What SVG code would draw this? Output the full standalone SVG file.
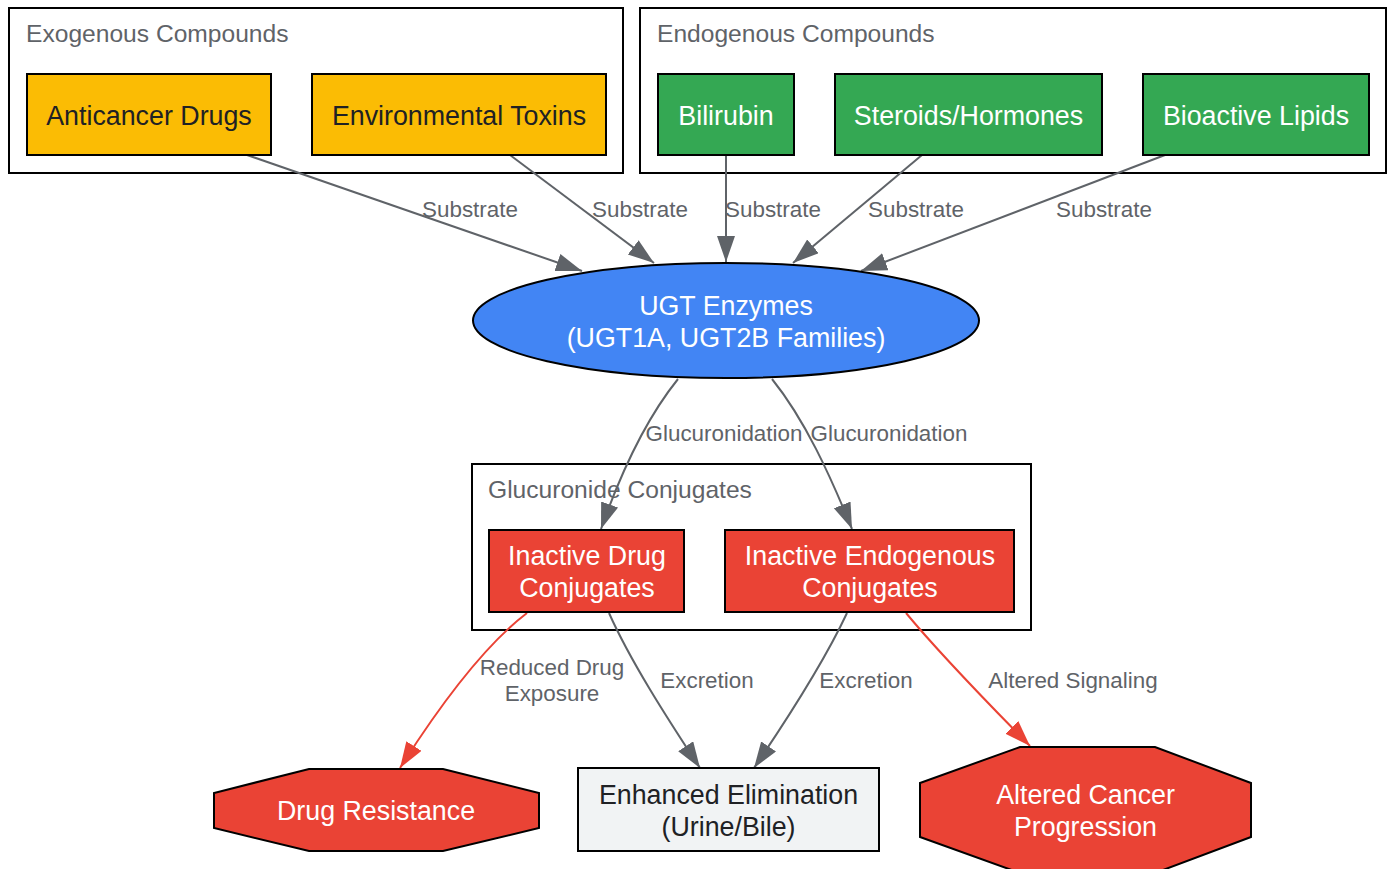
<svg xmlns="http://www.w3.org/2000/svg" width="1393" height="869" viewBox="0 0 1393 869">
<defs>
<style>
.cl{fill:#fff;stroke:#000;stroke-width:2}
.ct{font-family:"Liberation Sans",Arial,sans-serif;font-size:24.6px;fill:#5f6368}
.nd{stroke:#000;stroke-width:2}
.nt{font-family:"Liberation Sans",Arial,sans-serif;font-size:26.8px;text-anchor:middle}
.w{fill:#fff}.d{fill:#202124}
.e{fill:none;stroke:#5f6368;stroke-width:2}
.er{fill:none;stroke:#ea4335;stroke-width:2}
.el{font-family:"Liberation Sans",Arial,sans-serif;font-size:22.4px;fill:#5f6368;text-anchor:middle}
</style>
<marker id="ag" markerUnits="userSpaceOnUse" markerWidth="28" markerHeight="20" refX="26" refY="9" orient="auto"><path d="M0,0 L26,9 L0,18 z" fill="#5f6368"/></marker>
<marker id="ar" markerUnits="userSpaceOnUse" markerWidth="28" markerHeight="20" refX="26" refY="9" orient="auto"><path d="M0,0 L26,9 L0,18 z" fill="#ea4335"/></marker>
</defs>
<rect width="1393" height="869" fill="#fff"/>
<g id="clusters">
<g id="exogenous"><rect class="cl" x="9" y="8" width="614" height="165"/><text class="ct" x="26" y="42">Exogenous Compounds</text></g>
<g id="endogenous"><rect class="cl" x="640" y="8" width="746" height="165"/><text class="ct" x="657" y="42">Endogenous Compounds</text></g>
<g id="glucuronide"><rect class="cl" x="472" y="464" width="559" height="166"/><text class="ct" x="488" y="498">Glucuronide Conjugates</text></g>
</g>
<g id="connectors">
<path class="e" d="M247,155 L582,271" marker-end="url(#ag)"/>
<path class="e" d="M510,155 L654,263" marker-end="url(#ag)"/>
<path class="e" d="M726,155 L726,262" marker-end="url(#ag)"/>
<path class="e" d="M922,155 L793,263" marker-end="url(#ag)"/>
<path class="e" d="M1165,155 L861,271" marker-end="url(#ag)"/>
<path class="e" d="M678,379 C645,420 620,475 601,529" marker-end="url(#ag)"/>
<path class="e" d="M772,379 C805,420 830,475 852,529" marker-end="url(#ag)"/>
<path class="er" d="M527,613 C485,645 440,705 400,768" marker-end="url(#ar)"/>
<path class="e" d="M609,613 C630,660 665,715 700,768" marker-end="url(#ag)"/>
<path class="e" d="M847,613 C825,660 790,715 754,768" marker-end="url(#ag)"/>
<path class="er" d="M906,613 C945,660 990,705 1030,746" marker-end="url(#ar)"/>
<text class="el" x="470" y="217">Substrate</text>
<text class="el" x="640" y="217">Substrate</text>
<text class="el" x="773" y="217">Substrate</text>
<text class="el" x="916" y="217">Substrate</text>
<text class="el" x="1104" y="217">Substrate</text>
<text class="el" x="724" y="441">Glucuronidation</text>
<text class="el" x="889" y="441">Glucuronidation</text>
<text class="el" x="552" y="675">Reduced Drug</text>
<text class="el" x="552" y="701">Exposure</text>
<text class="el" x="707" y="688">Excretion</text>
<text class="el" x="866" y="688">Excretion</text>
<text class="el" x="1073" y="688">Altered Signaling</text>
</g>
<g id="anticancer"><rect class="nd" x="27" y="74" width="244" height="81" fill="#fbbc04"/><text class="nt d" x="149" y="125">Anticancer Drugs</text></g>
<g id="toxins"><rect class="nd" x="312" y="74" width="294" height="81" fill="#fbbc04"/><text class="nt d" x="459" y="125">Environmental Toxins</text></g>
<g id="bilirubin"><rect class="nd" x="658" y="74" width="136" height="81" fill="#34a853"/><text class="nt w" x="726" y="125">Bilirubin</text></g>
<g id="steroids"><rect class="nd" x="835" y="74" width="267" height="81" fill="#34a853"/><text class="nt w" x="968.5" y="125">Steroids/Hormones</text></g>
<g id="lipids"><rect class="nd" x="1143" y="74" width="226" height="81" fill="#34a853"/><text class="nt w" x="1256" y="125">Bioactive Lipids</text></g>
<g id="ugt"><ellipse class="nd" cx="726" cy="320.5" rx="253" ry="57.5" fill="#4285f4"/><text class="nt w" x="726" y="315">UGT Enzymes</text><text class="nt w" x="726" y="347">(UGT1A, UGT2B Families)</text></g>
<g id="drugconj"><rect class="nd" x="489" y="530" width="195" height="82" fill="#ea4335"/><text class="nt w" x="587" y="565">Inactive Drug</text><text class="nt w" x="587" y="597">Conjugates</text></g>
<g id="endoconj"><rect class="nd" x="725" y="530" width="289" height="82" fill="#ea4335"/><text class="nt w" x="870" y="565">Inactive Endogenous</text><text class="nt w" x="870" y="597">Conjugates</text></g>
<g id="resistance"><polygon class="nd" points="309,769 443,769 539,793 539,828 443,851 309,851 214,828 214,793" fill="#ea4335"/><text class="nt w" x="376" y="820">Drug Resistance</text></g>
<g id="elimination"><rect class="nd" x="578" y="768" width="301" height="83" fill="#f1f3f4"/><text class="nt d" x="728.5" y="804">Enhanced Elimination</text><text class="nt d" x="728.5" y="836">(Urine/Bile)</text></g>
<g id="cancer"><polygon class="nd" points="1020,747 1155,747 1251,783 1251,837 1155,873 1020,873 920,837 920,783" fill="#ea4335"/><text class="nt w" x="1085.5" y="804">Altered Cancer</text><text class="nt w" x="1085.5" y="836">Progression</text></g>
</svg>
